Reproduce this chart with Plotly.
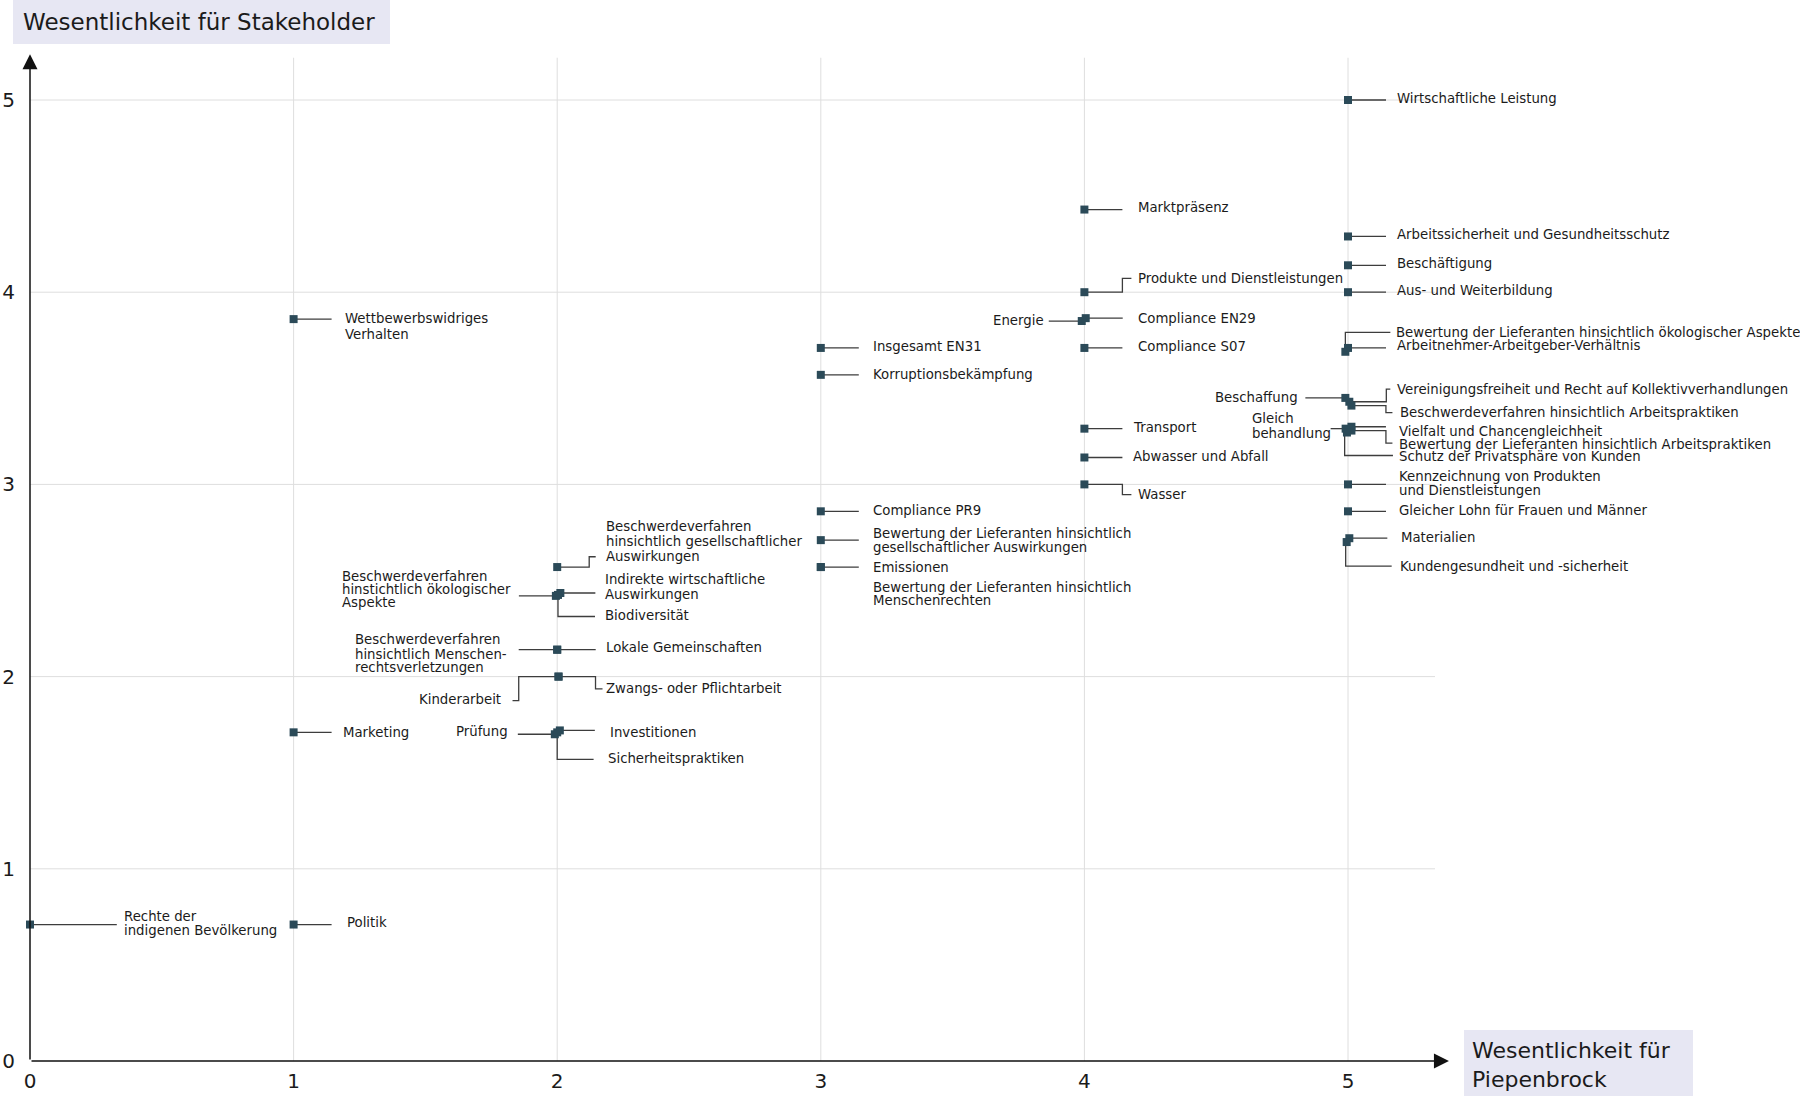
import plotly.graph_objects as go

# ---------------- data ----------------
topics = [
    "Wirtschaftliche Leistung",
    "Arbeitssicherheit und Gesundheitsschutz",
    "Beschäftigung",
    "Aus- und Weiterbildung",
    "Bewertung der Lieferanten hinsichtlich ökologischer Aspekte",
    "Arbeitnehmer-Arbeitgeber-Verhältnis",
    "Beschaffung",
    "Vereinigungsfreiheit und Recht auf Kollektivverhandlungen",
    "Beschwerdeverfahren hinsichtlich Arbeitspraktiken",
    "Gleich<br>behandlung",
    "Vielfalt und Chancengleichheit",
    "Bewertung der Lieferanten hinsichtlich Arbeitspraktiken",
    "Schutz der Privatsphäre von Kunden",
    "Kennzeichnung von Produkten<br>und Dienstleistungen",
    "Gleicher Lohn für Frauen und Männer",
    "Materialien",
    "Kundengesundheit und -sicherheit",
    "Marktpräsenz",
    "Produkte und Dienstleistungen",
    "Energie",
    "Compliance EN29",
    "Compliance S07",
    "Transport",
    "Abwasser und Abfall",
    "Wasser",
    "Insgesamt EN31",
    "Korruptionsbekämpfung",
    "Compliance PR9",
    "Bewertung der Lieferanten hinsichtlich<br>gesellschaftlicher Auswirkungen",
    "Emissionen",
    "Bewertung der Lieferanten hinsichtlich<br>Menschenrechten",
    "Beschwerdeverfahren<br>hinsichtlich gesellschaftlicher<br>Auswirkungen",
    "Beschwerdeverfahren<br>hinstichtlich ökologischer<br>Aspekte",
    "Indirekte wirtschaftliche<br>Auswirkungen",
    "Biodiversität",
    "Beschwerdeverfahren<br>hinsichtlich Menschen-<br>rechtsverletzungen",
    "Lokale Gemeinschaften",
    "Kinderarbeit",
    "Zwangs- oder Pflichtarbeit",
    "Prüfung",
    "Investitionen",
    "Sicherheitspraktiken",
    "Wettbewerbswidriges<br>Verhalten",
    "Marketing",
    "Politik",
    "Rechte der<br>indigenen Bevölkerung",
]

wesentlichkeit_piepenbrock = [
    5.0, 5.0, 5.0, 5.0, 4.99, 5.0, 4.99, 5.005, 5.013, 4.991, 5.013, 5.013, 4.996,
    5.0, 5.0, 5.005, 4.995,
    4.0, 4.0, 3.99, 4.005, 4.0, 4.0, 4.0, 4.0,
    3.0, 3.0, 3.0, 3.0, 3.0, 3.0,
    2.0, 1.995, 2.012, 2.003, 2.0, 2.0, 2.005, 2.005, 1.991, 2.01, 2.0,
    1.0, 1.0, 1.0,
    0.0,
]

wesentlichkeit_stakeholder = [
    5.0, 4.29, 4.14, 4.0, 3.69, 3.71, 3.45, 3.43, 3.41, 3.29, 3.30, 3.28, 3.27,
    3.0, 2.86, 2.72, 2.70,
    4.43, 4.0, 3.85, 3.865, 3.71, 3.29, 3.14, 3.0,
    3.71, 3.57, 2.86, 2.71, 2.57, 2.57,
    2.57, 2.42, 2.435, 2.425, 2.14, 2.14, 2.0, 2.0, 1.70, 1.72, 1.71,
    3.86, 1.71, 0.71,
    0.71,
]

tick_values = [0, 1, 2, 3, 4, 5]
tick_labels = ["0", "1", "2", "3", "4", "5"]
x_title = "Wesentlichkeit für<br>Piepenbrock"
y_title = "Wesentlichkeit für Stakeholder"

# ---------------- layout / styling ----------------
FIG_W, FIG_H = 1800, 1096
M_L, M_R, M_T, M_B = 30, 0, 0, 35
X_UNIT = 263.6   # px per data unit (x)
Y_UNIT = 192.2   # px per data unit (y)
X_MAX = (FIG_W - M_L - M_R) / X_UNIT
Y_MAX = (FIG_H - M_T - M_B) / Y_UNIT
X_ARROW_END = 5.383
Y_ARROW_END = 5.238
H_GRID_END = 5.33
V_GRID_END = 5.22

FONT = "DejaVu Sans"
LABEL_SIZE = 13.3
MARKER_COLOR = "#2b4a58"
LINE_COLOR = "#3d3d3d"
GRID_COLOR = "#dedede"
BOX_COLOR = "#e7e7f3"


def H(L):
    return [(0, 0), (L, 0)]


def E(e, v, L):
    return [(0, 0), (e, 0), (e, v), (L, v)]


# (anchor, text x offset px, line y offsets px (down +), connector path px)
# anchor: 'r' -> text starts at offset; 'l' -> text ends at offset; 'L' -> left-aligned block starting at offset
placements = [
    ('r', 47, [-2], H(38)),
    ('r', 47, [-2], H(38)),
    ('r', 47, [-2], H(38)),
    ('r', 47, [-2], H(38)),
    ('r', 49, [-19.5], E(0, -19.5, 45)),
    ('r', 47, [-2], H(38)),
    ('l', -45, [0], H(-40)),
    ('r', 46, [-12.6], E(37, -12.6, 41)),
    ('r', 47, [7], E(34.5, 7, 41)),
    ('L', -95.5, [-10.3, 4.6], H(-15)),
    ('r', 46, [4.6], H(34.5)),
    ('r', 46, [13.8], E(34.5, 12.6, 41)),
    ('r', 50.5, [24], E(-2.3, 23, 46)),
    ('r', 49.4, [-8, 5.7], H(38)),
    ('r', 49.4, [-1], H(38)),
    ('r', 49.4, [-1], H(38)),
    ('r', 51.7, [24], E(-1, 24, 45)),
    ('r', 51.7, [-2], H(38)),
    ('r', 51.7, [-13.8], E(38, -13.8, 47)),
    ('l', -35.6, [-1], H(-33)),
    ('r', 50.5, [0], H(37)),
    ('r', 51.7, [-1], H(38)),
    ('r', 47, [-1], H(38)),
    ('r', 47, [-1], H(38)),
    ('r', 51.7, [10.3], E(38, 10.3, 47)),
    ('r', 50.5, [-1], H(38)),
    ('r', 50.5, [0], H(38)),
    ('r', 50.5, [-1], H(38)),
    ('r', 50.5, [-7, 7], H(38)),
    ('r', 50.5, [0], H(38)),
    ('r', 50.5, [20.7, 33.3], None),
    ('r', 46.5, [-41, -26, -10.9], E(32, -10.3, 38.5)),
    ('L', -216, [-19, -6.4, 7], H(-37)),
    ('r', 43, [-13.8, 2], H(35)),
    ('r', 44.8, [20.8], E(0, 21.6, 37)),
    ('L', -204, [-10.6, 4.4, 17.7], H(-38.5)),
    ('r', 46.3, [-1.7], H(38.5)),
    ('l', -56, [23], E(-39.8, 24, -46)),
    ('r', 45, [12.3], E(37, 12.3, 44)),
    ('l', -44.4, [-2.3], H(-37)),
    ('r', 48, [1.8], H(35)),
    ('r', 49, [26.6], E(0, 27, 36.4)),
    ('r', 49.4, [-1, 15], H(38)),
    ('r', 47, [0], H(38)),
    ('r', 51, [-2.3], H(38)),
    ('r', 92.4, [-7.6, 6.4], H(86.8)),
]

fig = go.Figure()

# connector lines
cx, cy = [], []
for x, y, pl in zip(wesentlichkeit_piepenbrock, wesentlichkeit_stakeholder, placements):
    path = pl[3]
    if path is None:
        continue
    for dx, dy in path:
        cx.append(x + dx / X_UNIT)
        cy.append(y - dy / Y_UNIT)
    cx.append(None)
    cy.append(None)

fig.add_trace(go.Scatter(
    x=cx, y=cy, mode="lines",
    line=dict(color=LINE_COLOR, width=1.3),
    hoverinfo="skip", showlegend=False, cliponaxis=False,
))

# points
fig.add_trace(go.Scatter(
    x=wesentlichkeit_piepenbrock, y=wesentlichkeit_stakeholder,
    mode="markers",
    marker=dict(symbol="square", size=8, color=MARKER_COLOR, line=dict(width=0)),
    text=[t.replace("<br>", " ") for t in topics],
    hovertemplate="%{text}<br>Piepenbrock: %{x}<br>Stakeholder: %{y}<extra></extra>",
    showlegend=False, cliponaxis=False,
))

annotations = []
for x, y, t, pl in zip(wesentlichkeit_piepenbrock, wesentlichkeit_stakeholder, topics, placements):
    anchor, tx, lines_dy, _ = pl
    parts = t.split("<br>")
    for part, dy in zip(parts, lines_dy):
        annotations.append(dict(
            x=x, y=y, xref="x", yref="y", text=part, showarrow=False,
            xanchor="right" if anchor == "l" else "left", yanchor="middle",
            xshift=tx, yshift=-dy,
            font=dict(family=FONT, size=LABEL_SIZE, color="#1b1b1b"),
        ))

# axis arrows
annotations.append(dict(
    x=0, y=Y_ARROW_END, ax=0, ay=0, xref="x", yref="y", axref="x", ayref="y",
    text="", showarrow=True, arrowhead=2, arrowsize=2, arrowwidth=1.5,
    arrowcolor="#111111", standoff=0,
))
annotations.append(dict(
    x=X_ARROW_END, y=0, ax=0, ay=0, xref="x", yref="y", axref="x", ayref="y",
    text="", showarrow=True, arrowhead=2, arrowsize=2, arrowwidth=1.5,
    arrowcolor="#111111", standoff=0,
))

plot_w = FIG_W - M_L - M_R
plot_h = FIG_H - M_T - M_B


def px_x(p):
    return (p - M_L) / plot_w


def px_y(p):
    return (FIG_H - M_B - p) / plot_h


# axis title boxes
annotations.append(dict(
    xref="paper", yref="paper", x=px_x(13), y=px_y(0),
    xanchor="left", yanchor="top", text=y_title, showarrow=False,
    align="left", width=357, height=24, borderpad=10, borderwidth=0,
    bgcolor=BOX_COLOR, font=dict(family=FONT, size=23, color="#1b1b1b"),
))
annotations.append(dict(
    xref="paper", yref="paper", x=px_x(1464), y=px_y(1030),
    xanchor="left", yanchor="top", text=x_title, showarrow=False,
    align="left", width=213, borderpad=8, borderwidth=0,
    bgcolor=BOX_COLOR, font=dict(family=FONT, size=22, color="#1b1b1b"),
))

shapes = []
for v in tick_values[1:]:
    shapes.append(dict(type="line", xref="x", yref="y", x0=v, x1=v, y0=0, y1=V_GRID_END,
                       line=dict(color=GRID_COLOR, width=1), layer="below"))
    shapes.append(dict(type="line", xref="x", yref="y", x0=0, x1=H_GRID_END, y0=v, y1=v,
                       line=dict(color=GRID_COLOR, width=1), layer="below"))

fig.update_layout(
    width=FIG_W, height=FIG_H,
    margin=dict(l=M_L, r=M_R, t=M_T, b=M_B, pad=0),
    paper_bgcolor="white", plot_bgcolor="white",
    xaxis=dict(range=[0, X_MAX], tickvals=tick_values, ticktext=tick_labels,
               showgrid=False, zeroline=False, showline=False, ticks="",
               tickfont=dict(family=FONT, size=20, color="#1b1b1b"),
               ticklabelstandoff=6, fixedrange=True),
    yaxis=dict(range=[0, Y_MAX], tickvals=tick_values, ticktext=tick_labels,
               showgrid=False, zeroline=False, showline=False, ticks="",
               tickfont=dict(family=FONT, size=20, color="#1b1b1b"),
               ticklabelstandoff=14, fixedrange=True),
    annotations=annotations,
    shapes=shapes,
    showlegend=False,
)

fig.write_html(
    "out.html",
    config={"displayModeBar": False},
    post_script="document.body.style.margin='0';document.body.style.overflow='hidden';",
)
